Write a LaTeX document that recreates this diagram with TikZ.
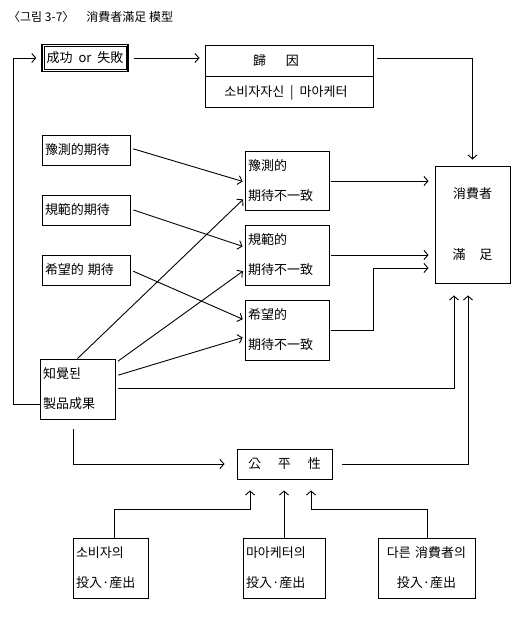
\documentclass[tikz,border=0pt]{standalone}
\usepackage{fontspec}
\setmainfont{Noto Sans CJK KR}
\usetikzlibrary{arrows.meta}
\begin{document}
\begin{tikzpicture}[x=1pt,y=-1pt,
  every node/.style={font=\fontsize{13}{30}\selectfont, inner sep=0pt},
  bx/.style={draw, line width=0.9pt, inner xsep=3pt, inner ysep=0pt, align=left},
  arr/.style={-{Straight Barb[length=4pt,width=9pt]}, line width=0.9pt},
  ln/.style={line width=0.9pt}]
\useasboundingbox (0,0) rectangle (520,624);
% title
\node[anchor=west, font=\fontsize{12}{14}\selectfont] (title) at (8,17) {〈그림 3-7〉\hspace{12pt}消費者滿足 模型};
% top row
\node[bx, align=center, text width=80, minimum height=27, line width=1.3pt] (success) at (85,58) {成功\hspace{6pt}or\hspace{6pt}失敗};
\draw[line width=0.5pt] ([shift={(2.5,2.5)}]success.north west) rectangle ([shift={(-2.5,-2.5)}]success.south east);
\node[bx, minimum width=168, minimum height=62] (attrib) at (289,76) {};
\node (attop) at (276,61) {歸\hspace{20pt}因};
\node (atbot) at (286,93) {소비자자신\hspace{6pt}|\hspace{6pt}마아케터};
\draw[ln] (attrib.west |- 0,76) -- (attrib.east |- 0,76);
% satisfaction
\node[bx, align=center, text width=69, minimum height=117, font=\fontsize{13}{61}\selectfont] (sat) at (472.5,224.5) {消費者\\滿\hspace{14pt}足};
% expectations
\node[bx, text width=82, minimum height=30] (exp1) at (86,150) {豫測的期待};
\node[bx, text width=82, minimum height=30] (exp2) at (86,210) {規範的期待};
\node[bx, text width=82, minimum height=30] (exp3) at (86,270) {希望的\hspace{4pt}期待};
% disconfirmation
\node[bx, text width=78, minimum height=59] (dis1) at (287,181) {豫測的\\期待不一致};
\node[bx, text width=78, minimum height=60] (dis2) at (287,255) {規範的\\期待不一致};
\node[bx, text width=78, minimum height=60] (dis3) at (287,330) {希望的\\期待不一致};
% perceived performance
\node[bx, text width=69, minimum height=60] (perc) at (77.5,389) {知覺된\\製品成果};
% equity
\node[bx, align=center, text width=89, minimum height=30] (equity) at (284.5,464) {公\hspace{17pt}平\hspace{17pt}性};
% inputs
\node[bx, text width=69, minimum height=60] (in1) at (110.5,568) {소비자의\\投入·産出};
\node[bx, text width=76, minimum height=60] (in2) at (284,568) {마아케터의\\投入·産出};
\node[bx, align=center, text width=91, minimum height=60] (in3) at (426.5,568) {다른 消費者의\\投入·産出};
% connectors
\draw[arr, shorten >=5pt] (perc.west |- 0,404) -| (13,58) -- (success.west);
\draw[arr, shorten <=5pt, shorten >=5pt] (success.east) -- (success.east -| attrib.west);
\draw[arr, shorten <=4pt, shorten >=6pt] (attrib.east |- success.east) -| (sat.north);
\draw[arr, shorten <=3pt, shorten >=2pt] ([yshift=2pt]exp1.east) -- ([yshift=-1pt]dis1.west);
\draw[arr, shorten <=3pt, shorten >=2pt] ([yshift=1pt]exp2.east) -- ([yshift=8pt]dis2.west);
\draw[arr, shorten <=3pt, shorten >=2pt] (exp3.east) -- ([yshift=10pt]dis3.west);
\draw[arr, shorten >=2pt] (perc.north) -- ([yshift=-17pt]dis1.west);
\draw[arr, shorten <=3pt, shorten >=2pt] ([yshift=26pt]perc.east) -- ([yshift=-15pt]dis2.west);
\draw[arr, shorten <=3pt, shorten >=2pt] ([yshift=13pt]perc.east) -- ([yshift=-7pt]dis3.west);
\draw[arr, shorten <=2pt, shorten >=6pt] (dis1.east) -- (dis1.east -| sat.west);
\draw[arr, shorten <=2pt, shorten >=6pt] (dis2.east) -- (dis2.east -| sat.west);
\draw[arr, shorten <=2pt, shorten >=6pt] (dis3.east) -| (373,268) -- (sat.west |- 0,268);
\draw[arr, shorten <=3pt, shorten >=12pt] (perc.east |- 0,388) -| (sat.south -| 454,0);
\draw[arr, shorten <=10pt, shorten >=12pt] (equity.east) -| (sat.south -| 468,0);
\draw[arr, shorten <=10pt, shorten >=12pt] (perc.south -| 73,0) |- (equity.west);
\draw[arr, shorten >=11pt] (in1.north -| 114,0) |- (250,509) -- (equity.south -| 250,0);
\draw[arr, shorten >=11pt] (in2.north) -- (equity.south -| in2.north);
\draw[arr, shorten >=11pt] (in3.north -| 427,0) |- (311,509) -- (equity.south -| 311,0);
\end{tikzpicture}
\end{document}
